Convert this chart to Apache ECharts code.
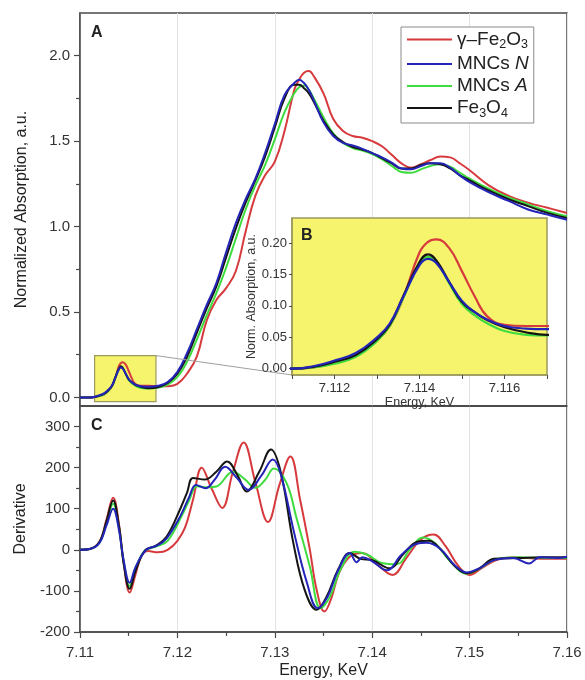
<!DOCTYPE html>
<html><head><meta charset="utf-8">
<script src="https://cdn.jsdelivr.net/npm/echarts@6/dist/echarts.min.js"></script>
<style>html,body{margin:0;padding:0;background:#fff}#c{width:585px;height:680px}</style>
</head><body><div id="c"></div>
<script>
const seriesNames = ['γ–Fe2O3', 'MNCs N', 'MNCs A', 'Fe3O4'];
const seriesColors = ['#d63a3d', '#2424b8', '#3fdc3f', '#151515'];

// Panel A / inset B: normalized absorption (shared energy grid, keV)
const energy = [7.110, 7.111, 7.1115, 7.112, 7.1125, 7.113, 7.1133, 7.1136, 7.114, 7.1142, 7.1144, 7.1147, 7.115, 7.1153, 7.1156, 7.116, 7.1165, 7.117, 7.118, 7.119, 7.120, 7.121, 7.122, 7.123, 7.124, 7.125, 7.126, 7.127, 7.128, 7.129, 7.130, 7.131, 7.132, 7.1325, 7.133, 7.1335, 7.134, 7.135, 7.136, 7.137, 7.138, 7.139, 7.140, 7.141, 7.142, 7.143, 7.144, 7.145, 7.146, 7.147, 7.148, 7.149, 7.150, 7.152, 7.154, 7.156, 7.158, 7.160];
const absFe2O3 = [0, 0, 0.002, 0.009, 0.020, 0.045, 0.068, 0.110, 0.185, 0.202, 0.206, 0.192, 0.155, 0.115, 0.083, 0.070, 0.068, 0.068, 0.065, 0.066, 0.080, 0.140, 0.240, 0.450, 0.570, 0.640, 0.740, 0.970, 1.180, 1.300, 1.380, 1.560, 1.800, 1.860, 1.900, 1.910, 1.880, 1.780, 1.630, 1.560, 1.530, 1.520, 1.500, 1.470, 1.420, 1.370, 1.345, 1.365, 1.390, 1.410, 1.405, 1.370, 1.330, 1.240, 1.180, 1.140, 1.110, 1.080];
const absMNCsN = [0, 0, 0.004, 0.013, 0.025, 0.050, 0.072, 0.112, 0.165, 0.175, 0.168, 0.138, 0.108, 0.090, 0.078, 0.068, 0.064, 0.063, 0.068, 0.090, 0.150, 0.260, 0.400, 0.540, 0.670, 0.850, 1.020, 1.160, 1.280, 1.430, 1.600, 1.770, 1.840, 1.860, 1.840, 1.800, 1.740, 1.610, 1.530, 1.490, 1.475, 1.455, 1.430, 1.405, 1.375, 1.340, 1.335, 1.355, 1.370, 1.370, 1.345, 1.300, 1.260, 1.200, 1.150, 1.100, 1.070, 1.040];
const absMNCsA = [0, 0, 0.002, 0.008, 0.019, 0.044, 0.068, 0.110, 0.168, 0.178, 0.170, 0.136, 0.103, 0.085, 0.072, 0.060, 0.054, 0.053, 0.058, 0.075, 0.120, 0.210, 0.340, 0.480, 0.610, 0.760, 0.930, 1.100, 1.240, 1.360, 1.510, 1.670, 1.780, 1.815, 1.825, 1.800, 1.750, 1.640, 1.545, 1.490, 1.460, 1.445, 1.425, 1.395, 1.355, 1.320, 1.315, 1.335, 1.355, 1.365, 1.350, 1.315, 1.280, 1.220, 1.170, 1.130, 1.090, 1.060];
const absFe3O4 = [0, 0, 0.003, 0.011, 0.022, 0.047, 0.070, 0.113, 0.170, 0.182, 0.172, 0.138, 0.106, 0.090, 0.077, 0.066, 0.058, 0.054, 0.060, 0.085, 0.140, 0.240, 0.380, 0.520, 0.650, 0.820, 0.990, 1.140, 1.270, 1.410, 1.580, 1.750, 1.830, 1.830, 1.810, 1.780, 1.730, 1.620, 1.540, 1.495, 1.465, 1.450, 1.430, 1.400, 1.370, 1.340, 1.340, 1.360, 1.370, 1.365, 1.340, 1.300, 1.270, 1.210, 1.160, 1.120, 1.080, 1.050];

// Panel C: derivative, [energy, value] pairs
const derivFe2O3 = [[7.110,0],[7.111,2],[7.112,20],[7.1127,72],[7.1134,127],[7.1140,62],[7.1145,-35],[7.1151,-104],[7.1157,-60],[7.1163,-15],[7.1170,-3],[7.1180,-6],[7.1190,0],[7.1200,22],[7.1208,55],[7.1216,122],[7.1225,200],[7.1235,150],[7.1246,102],[7.1257,190],[7.1268,261],[7.1280,165],[7.1293,68],[7.1305,160],[7.1316,227],[7.1326,122],[7.1336,0],[7.1343,-98],[7.1351,-150],[7.1358,-118],[7.1366,-56],[7.1377,-17],[7.1390,-8],[7.1405,-35],[7.1421,-61],[7.1435,-20],[7.1450,25],[7.1463,37],[7.1475,10],[7.1488,-38],[7.1500,-61],[7.1512,-45],[7.1528,-24],[7.1545,-18],[7.1560,-20],[7.1580,-22],[7.1600,-22]];
const derivMNCsN = [[7.110,0],[7.111,2],[7.112,17],[7.1127,58],[7.1134,100],[7.1140,48],[7.1145,-28],[7.1151,-80],[7.1157,-42],[7.1168,0],[7.1179,10],[7.1189,28],[7.1203,82],[7.1212,128],[7.1219,158],[7.1229,150],[7.1238,170],[7.1249,202],[7.1261,175],[7.1273,146],[7.1286,180],[7.1298,220],[7.1306,185],[7.1320,40],[7.1333,-80],[7.1344,-142],[7.1354,-115],[7.1365,-50],[7.1377,-8],[7.1384,-30],[7.1390,-18],[7.1400,-28],[7.1415,-50],[7.1430,-12],[7.1445,14],[7.1456,17],[7.1470,2],[7.1485,-38],[7.1497,-55],[7.1510,-45],[7.1525,-25],[7.1545,-20],[7.1561,-33],[7.1572,-18],[7.1590,-20],[7.1600,-17]];
const derivMNCsA = [[7.110,0],[7.111,2],[7.112,18],[7.1127,64],[7.1134,112],[7.1140,54],[7.1145,-32],[7.1151,-88],[7.1157,-48],[7.1166,-3],[7.1178,8],[7.1190,22],[7.1205,85],[7.1212,120],[7.1220,155],[7.1230,152],[7.1240,154],[7.1257,190],[7.1269,172],[7.1280,151],[7.1290,170],[7.1299,198],[7.1312,163],[7.1322,80],[7.1336,-41],[7.1347,-142],[7.1357,-112],[7.1368,-45],[7.1382,-5],[7.1395,-12],[7.1410,-32],[7.1425,-35],[7.1440,5],[7.1452,30],[7.1465,15],[7.1480,-28],[7.1497,-58],[7.1510,-46],[7.1528,-22],[7.1550,-18],[7.1580,-20],[7.1600,-20]];
const derivFe3O4 = [[7.110,0],[7.111,2],[7.112,19],[7.1127,68],[7.1134,120],[7.1140,58],[7.1145,-36],[7.1151,-95],[7.1157,-52],[7.1167,-1],[7.1178,10],[7.1189,32],[7.1203,100],[7.1210,140],[7.1216,175],[7.1228,171],[7.1240,190],[7.1251,215],[7.1262,180],[7.1271,142],[7.1284,190],[7.1296,244],[7.1306,190],[7.1319,17],[7.1331,-100],[7.1343,-146],[7.1353,-115],[7.1365,-48],[7.1377,-8],[7.1388,-22],[7.1400,-25],[7.1418,-45],[7.1432,-10],[7.1447,20],[7.1458,22],[7.1470,2],[7.1485,-40],[7.1497,-57],[7.1510,-45],[7.1525,-22],[7.1550,-20],[7.1575,-18],[7.1600,-18]];

// Axis ranges and tick values
const mainX = [7.11, 7.16];
const absY = [-0.05, 2.25];
const derivY = [-200, 350];
const insetX = [7.111, 7.117];
const insetY = [-0.01, 0.24];
const absTicks = [0, 0.5, 1.0, 1.5, 2.0];
const derivTicks = [-200, -100, 0, 100, 200, 300];
const insetYTicks = [0, 0.05, 0.10, 0.15, 0.20];
const zoomBoxX = [7.1115, 7.1178];
const zoomBoxY = [-0.024, 0.245];

const absData = [absFe2O3, absMNCsN, absMNCsA, absFe3O4];
const derivData = [derivFe2O3, derivMNCsN, derivMNCsA, derivFe3O4];

const FONT = 'Liberation Sans, Arial, sans-serif';
const AX = '#4a4a4a';
const drawOrder = [0, 2, 3, 1];

const series = [];
drawOrder.forEach(i => {
  const pts = energy.map((e, k) => [e, absData[i][k]]);
  const base = { name: seriesNames[i], type: 'line', color: seriesColors[i], showSymbol: false, symbol: 'none',
    smooth: 0.45, lineStyle: { width: 2, color: seriesColors[i] }, emphasis: { disabled: true }, silent: true };
  const sA = Object.assign({}, base, { xAxisIndex: 0, yAxisIndex: 0, data: pts, z: 3 });
  if (i === 0) {
    sA.markArea = { silent: true, z: 1, itemStyle: { color: '#f6f46c', borderColor: '#9d9a5e', borderWidth: 1.2 },
      data: [[{ coord: [zoomBoxX[0], zoomBoxY[1]] }, { coord: [zoomBoxX[1], zoomBoxY[0]] }]] };
  }
  series.push(sA);
  series.push(Object.assign({}, base, { xAxisIndex: 2, yAxisIndex: 2, data: pts, z: 12, lineStyle: { width: 2.2, color: seriesColors[i] } }));
  series.push(Object.assign({}, base, { xAxisIndex: 1, yAxisIndex: 1, data: derivData[i], z: 3, smooth: 0.4 }));
});

const legendRich = {
  n: { fontSize: 19, lineHeight: 24, color: '#222', fontFamily: FONT },
  i: { fontSize: 19, lineHeight: 24, color: '#222', fontStyle: 'italic', fontFamily: FONT },
  s: { fontSize: 12.5, lineHeight: 13, color: '#222', verticalAlign: 'bottom', fontFamily: FONT }
};
const legendText = {
  'γ–Fe2O3': '{n|γ–Fe}{s|2}{n|O}{s|3}',
  'MNCs N': '{n|MNCs }{i|N}',
  'MNCs A': '{n|MNCs }{i|A}',
  'Fe3O4': '{n|Fe}{s|3}{n|O}{s|4}'
};

const gridLine = { show: true, lineStyle: { color: '#e3e3e3', width: 1 } };

const option = {
  backgroundColor: '#fff',
  animation: false,
  textStyle: { fontFamily: FONT },
  grid: [
    { left: 80, top: 13, width: 487, height: 393, show: true, borderColor: AX, borderWidth: 1.5, backgroundColor: 'transparent' },
    { left: 80, top: 406, width: 487, height: 226, show: true, borderColor: AX, borderWidth: 1.5, backgroundColor: 'transparent' },
    { left: 292, top: 218, width: 255, height: 157, show: true, borderColor: '#9d9a5e', borderWidth: 1.5, backgroundColor: '#f6f46c', z: 10 }
  ],
  xAxis: [
    { gridIndex: 0, type: 'value', min: mainX[0], max: mainX[1], interval: 0.01,
      axisLine: { show: true, onZero: false, lineStyle: { color: AX, width: 1.5 } }, axisTick: { show: false }, axisLabel: { show: false }, splitLine: gridLine },
    { gridIndex: 1, type: 'value', min: mainX[0], max: mainX[1], interval: 0.01,
      name: 'Energy, KeV', nameLocation: 'middle', nameGap: 31, nameTextStyle: { fontSize: 16, color: '#222', fontFamily: FONT },
      axisLine: { show: true, onZero: false, lineStyle: { color: AX, width: 1.5 } },
      axisTick: { show: true, length: 6, lineStyle: { color: AX, width: 1.2 } },
      minorTick: { show: true, splitNumber: 2, length: 4, lineStyle: { color: AX, width: 1.2 } },
      axisLabel: { fontSize: 15, color: '#333', margin: 13, formatter: v => v.toFixed(2) },
      splitLine: gridLine },
    { gridIndex: 2, type: 'value', min: insetX[0], max: insetX[1], interval: 0.001, z: 10,
      name: 'Energy, KeV', nameLocation: 'middle', nameGap: 15, nameTextStyle: { fontSize: 12.5, color: '#333', fontFamily: FONT },
      axisLine: { show: true, onZero: false, lineStyle: { color: '#9d9a5e', width: 1.5 } },
      axisTick: { show: true, length: 4, lineStyle: { color: AX } },
      axisLabel: { fontSize: 13, color: '#333', margin: 7, formatter: v => (Math.round(v * 1000) % 2 === 0 ? v.toFixed(3) : '') },
      splitLine: { show: false } }
  ],
  yAxis: [
    { gridIndex: 0, type: 'value', min: absY[0], max: absY[1], splitNumber: 5,
      name: 'Normalized Absorption, a.u.', nameLocation: 'middle', nameGap: 50, nameRotate: 90,
      nameTextStyle: { fontSize: 16, color: '#222', fontFamily: FONT },
      axisLine: { show: true, onZero: false, lineStyle: { color: AX, width: 1.5 } },
      axisTick: { show: true, length: 6, customValues: absTicks, lineStyle: { color: AX, width: 1.2 } },
      minorTick: { show: true, splitNumber: 2, length: 4, lineStyle: { color: AX, width: 1.2 } },
      axisLabel: { fontSize: 15, color: '#333', margin: 10, customValues: absTicks, formatter: v => v.toFixed(1) },
      splitLine: { show: false } },
    { gridIndex: 1, type: 'value', min: derivY[0], max: derivY[1], interval: 100,
      name: 'Derivative', nameLocation: 'middle', nameGap: 50, nameRotate: 90,
      nameTextStyle: { fontSize: 16, color: '#222', fontFamily: FONT },
      axisLine: { show: true, onZero: false, lineStyle: { color: AX, width: 1.5 } },
      axisTick: { show: true, length: 6, customValues: derivTicks, lineStyle: { color: AX, width: 1.2 } },
      minorTick: { show: true, splitNumber: 2, length: 4, lineStyle: { color: AX, width: 1.2 } },
      axisLabel: { fontSize: 15, color: '#333', margin: 10, customValues: derivTicks, formatter: v => String(v) },
      splitLine: { show: false } },
    { gridIndex: 2, type: 'value', min: insetY[0], max: insetY[1], splitNumber: 5, z: 10,
      name: 'Norm. Absorption, a.u.', nameLocation: 'middle', nameGap: 33, nameRotate: 90,
      nameTextStyle: { fontSize: 12.5, color: '#333', fontFamily: FONT },
      axisLine: { show: true, onZero: false, lineStyle: { color: '#9d9a5e', width: 1.5 } },
      axisTick: { show: true, length: 3, customValues: insetYTicks, lineStyle: { color: AX } },
      axisLabel: { fontSize: 13, color: '#333', margin: 5, customValues: insetYTicks, formatter: v => v.toFixed(2) },
      splitLine: { show: false } }
  ],
  legend: {
    data: seriesNames, orient: 'vertical', left: 401, top: 27,
    icon: 'rect', itemWidth: 45, itemHeight: 2.2, itemGap: 3,
    padding: [3, 5, 3, 6], borderColor: '#8a8a8a', borderWidth: 1, backgroundColor: '#fff',
    selectedMode: false,
    formatter: name => legendText[name],
    textStyle: { rich: legendRich, fontSize: 19, color: '#222' }
  },
  graphic: [
    { id: 'lblA', type: 'text', left: 91, top: 25, z: 20, style: { text: 'A', font: 'bold 16px ' + FONT, fill: '#222' } },
    { id: 'lblB', type: 'text', left: 301, top: 228, z: 20, style: { text: 'B', font: 'bold 16px ' + FONT, fill: '#222' } },
    { id: 'lblC', type: 'text', left: 91, top: 418, z: 20, style: { text: 'C', font: 'bold 16px ' + FONT, fill: '#222' } }
  ],
  series: series
};

const chart = echarts.init(document.getElementById('c'), null, { renderer: 'canvas' });
chart.setOption(option);
const p1 = chart.convertToPixel({ gridIndex: 0 }, [zoomBoxX[1], zoomBoxY[1]]);
const p2 = chart.convertToPixel({ gridIndex: 2 }, [insetX[0], insetY[0]]);
chart.setOption({ graphic: [
  { id: 'conn', type: 'line', z: 5, shape: { x1: p1[0], y1: p1[1], x2: p2[0], y2: p2[1] }, style: { stroke: '#a0a0a0', lineWidth: 1 } }
] });
</script></body></html>
